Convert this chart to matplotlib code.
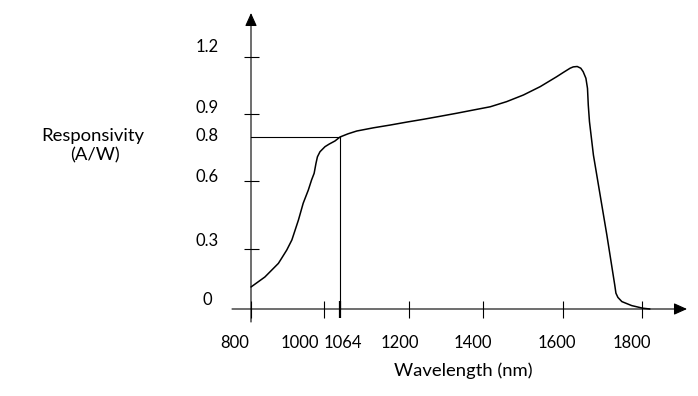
import numpy as np
import matplotlib
matplotlib.use("Agg")
import matplotlib.pyplot as plt

# ---------------- data ----------------
wavelength = [800, 838, 875, 884, 898, 912, 921, 930, 943, 957, 966, 973, 978,
              982, 989, 1004, 1021, 1044, 1064, 1080, 1097, 1130, 1163, 1196,
              1239, 1284, 1329, 1374, 1418, 1459, 1501, 1543, 1584, 1601, 1618,
              1626, 1636, 1645, 1651, 1658, 1662, 1664, 1667, 1677, 1694, 1711,
              1727, 1731, 1734, 1739, 1749, 1774, 1802, 1820]
responsivity = [0.11, 0.16, 0.228, 0.254, 0.295, 0.340, 0.384, 0.428, 0.502,
                0.560, 0.605, 0.635, 0.680, 0.710, 0.733, 0.756, 0.768, 0.782,
                0.80, 0.814, 0.826, 0.840, 0.852, 0.865, 0.877, 0.890, 0.904,
                0.921, 0.938, 0.965, 1.0, 1.044, 1.096, 1.119, 1.141, 1.148,
                1.150, 1.141, 1.123, 1.088, 1.035, 0.947, 0.867, 0.718, 0.538,
                0.362, 0.17, 0.12, 0.079, 0.058, 0.037, 0.017, 0.004, 0.0]

x_ticks = [800, 1000, 1064, 1200, 1400, 1600, 1800]
x_tick_labels = ["800", "1000", "1064", "1200", "1400", "1600", "1800"]
y_ticks = [0.3, 0.6, 0.9, 1.2]
y_label_values = [0, 0.3, 0.6, 0.8, 0.9, 1.2]
y_label_texts = ["0", "0.3", "0.6", "0.8", "0.9", "1.2"]
marker_wavelength = 1064
marker_responsivity = 0.8

# ------------- layout (schematic drawing, uneven axis spacing) -------------
W, H = 698, 396
X_DRAW_PX = [251, 324, 340, 409, 483, 563, 642]     # pixel column of each x tick
Y_DRAW_PX = [87, 147, 215, 259, 282, 339]           # pixel row (from bottom) of y values
X_LABEL_DX = [-16, -24, 3, -9, -10, -6, -10]
Y_LABEL_DY = [4, 3.3, -0.7, -4, 0.7, 5.3]


def piecewise(xp, fp):
    xp = np.asarray(xp, float)
    fp = np.asarray(fp, float)
    s0 = (fp[1] - fp[0]) / (xp[1] - xp[0])
    s1 = (fp[-1] - fp[-2]) / (xp[-1] - xp[-2])

    def f(x):
        x = np.asarray(x, float)
        y = np.interp(x, xp, fp)
        y = np.where(x < xp[0], fp[0] + (x - xp[0]) * s0, y)
        y = np.where(x > xp[-1], fp[-1] + (x - xp[-1]) * s1, y)
        return y
    return f


fx = piecewise(x_ticks, X_DRAW_PX)
fx_inv = piecewise(X_DRAW_PX, x_ticks)
fy = piecewise(y_label_values, Y_DRAW_PX)
fy_inv = piecewise(Y_DRAW_PX, y_label_values)

plt.rcParams["font.family"] = ["Lato", "DejaVu Sans"]
FS_TICK = 12
FS_TITLE = 13.3

fig = plt.figure(figsize=(W / 100, H / 100), dpi=100)
ax = fig.add_axes([0, 0, 1, 1])
ax.set_xscale("function", functions=(fx, fx_inv))
ax.set_yscale("function", functions=(fy, fy_inv))
ax.set_xlim(float(fx_inv(0)), float(fx_inv(W)))
ax.set_ylim(float(fy_inv(0)), float(fy_inv(H)))
ax.patch.set_alpha(0)

# spines used only to place ticks
for s in ax.spines.values():
    s.set_visible(False)
ax.spines["bottom"].set_position(("data", 0))
ax.spines["left"].set_position(("data", x_ticks[0]))

ax.set_xticks(x_ticks)
ax.set_yticks(y_ticks)
ax.xaxis.set_minor_locator(matplotlib.ticker.NullLocator())
ax.yaxis.set_minor_locator(matplotlib.ticker.NullLocator())
ax.tick_params(axis="x", direction="inout", length=17 * 0.72, width=0.8,
               labelbottom=False, color="black")
ax.tick_params(axis="y", direction="inout", length=15 * 0.72, width=0.8,
               labelleft=False, color="black")
ax.xaxis.get_major_ticks()[x_ticks.index(marker_wavelength)].tick1line.set_markeredgewidth(1.6)

# axis lines with arrowheads
arrow = dict(arrowstyle="-|>,head_length=0.8,head_width=0.36", color="black",
             lw=0.8, shrinkA=0, shrinkB=0, mutation_scale=10)
ax.annotate("", xy=(float(fx_inv(687)), 0), xytext=(float(fx_inv(232)), 0),
            arrowprops=arrow)
ax.annotate("", xy=(x_ticks[0], float(fy_inv(H - 13))),
            xytext=(x_ticks[0], float(fy_inv(H - 322))), arrowprops=arrow)

# marker lines
ax.plot([x_ticks[0], marker_wavelength], [marker_responsivity] * 2,
        color="black", lw=0.8)
ax.plot([marker_wavelength] * 2, [0, marker_responsivity], color="black", lw=0.8)

# responsivity curve
ax.plot(wavelength, responsivity, color="black", lw=1.1,
        solid_joinstyle="round", solid_capstyle="round")

# tick labels
for v, t, dx in zip(x_ticks, x_tick_labels, X_LABEL_DX):
    ax.annotate(t, xy=(v, 0), xytext=(dx, -39), textcoords="offset pixels",
                ha="center", va="baseline", fontsize=FS_TICK)
for v, t, dy in zip(y_label_values, y_label_texts, Y_LABEL_DY):
    ax.annotate(t, xy=(x_ticks[0], v), xytext=(-44, dy),
                textcoords="offset pixels", ha="center", va="baseline",
                fontsize=FS_TICK)

# axis titles
fig.text(463 / W, 1 - 376 / H, "Wavelength (nm)", ha="center", va="baseline",
         fontsize=FS_TITLE)
fig.text(92.5 / W, 1 - 141 / H, "Responsivity", ha="center", va="baseline",
         fontsize=FS_TITLE)
fig.text(95 / W, 1 - 160 / H, "(A/W)", ha="center", va="baseline",
         fontsize=FS_TITLE)

fig.savefig("out.png", dpi=100, facecolor="white")
